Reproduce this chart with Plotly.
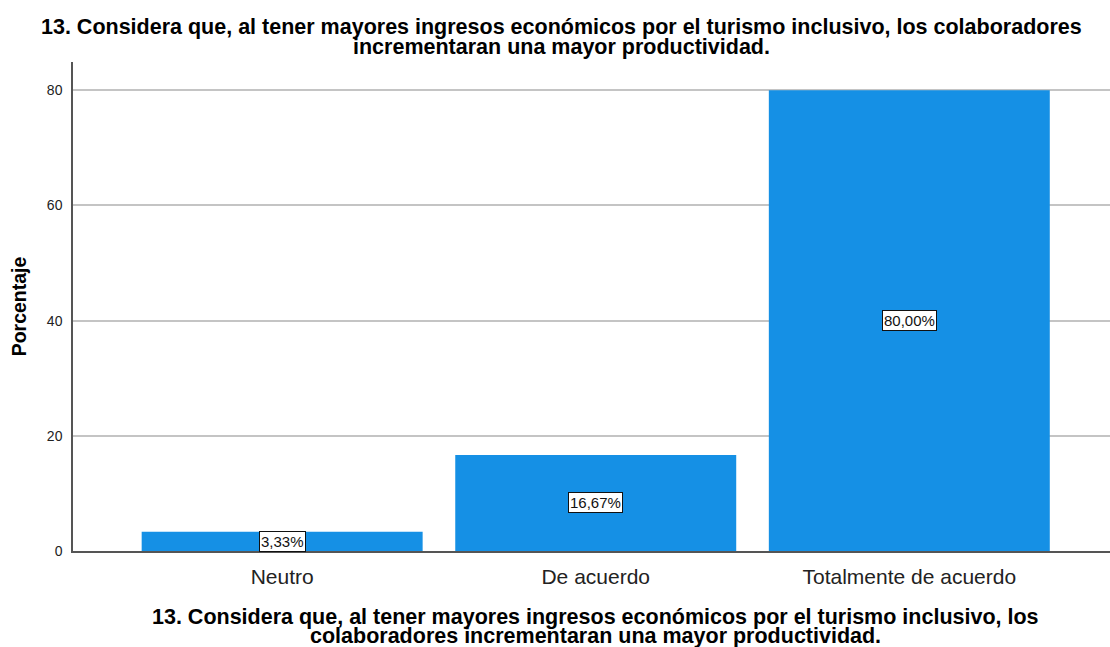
import plotly.graph_objects as go

categorias = ["Neutro", "De acuerdo", "Totalmente de acuerdo"]
porcentajes = [3.33, 16.67, 80.00]
etiquetas = ["3,33%", "16,67%", "80,00%"]

titulo = ["13. Considera que, al tener mayores ingresos económicos por el turismo inclusivo, los colaboradores",
          "incrementaran una mayor productividad."]
titulo_x = ["13. Considera que, al tener mayores ingresos económicos por el turismo inclusivo, los",
            "colaboradores incrementaran una mayor productividad."]

FONT = "Liberation Sans, Arial, sans-serif"
BAR = "#1590e5"

fig = go.Figure()
fig.add_trace(go.Bar(
    x=list(range(len(categorias))),
    y=porcentajes,
    width=0.896,
    marker=dict(color=BAR, line=dict(width=0)),
    hoverinfo="skip",
))

# value labels boxed at mid-height of each bar
for i, (v, t) in enumerate(zip(porcentajes, etiquetas)):
    fig.add_annotation(
        x=i, y=v / 2, text=t, showarrow=False,
        font=dict(family=FONT, size=15, color="#111"),
        bgcolor="white", bordercolor="#111", borderwidth=1, borderpad=1,
    )

# chart title, one annotation per line for tight line spacing
for k, linea in enumerate(titulo):
    fig.add_annotation(
        xref="paper", yref="paper", x=0.4715, y=1, yshift=62 - 27 - 20 * k,
        yanchor="middle", xanchor="center",
        text="<b>" + linea + "</b>", showarrow=False,
        font=dict(family=FONT, size=21.5, color="black"),
    )

# category axis title under the labels
for k, linea in enumerate(titulo_x):
    fig.add_annotation(
        xref="x", yref="paper", x=1, y=0, yshift=-(617 - 551) - 19 * k,
        yanchor="middle", xanchor="center",
        text="<b>" + linea + "</b>", showarrow=False,
        font=dict(family=FONT, size=21.5, color="black"),
    )

fig.update_layout(
    width=1110, height=647,
    margin=dict(l=73, r=0, t=62, b=96),
    paper_bgcolor="white", plot_bgcolor="white",
    showlegend=False,
    font=dict(family=FONT, color="#222"),
    xaxis=dict(
        range=[-0.667, 2.64],
        tickmode="array", tickvals=list(range(len(categorias))), ticktext=categorias,
        tickfont=dict(size=21, color="#222"),
        ticklabelstandoff=6,
        showline=True, linecolor="#555", linewidth=1.5,
        showgrid=False, ticks="", zeroline=False,
        fixedrange=True,
    ),
    yaxis=dict(
        range=[0, 84.9],
        tickvals=[0, 20, 40, 60, 80],
        tickfont=dict(size=14, color="#222"),
        ticklabelstandoff=6,
        showline=True, linecolor="#555", linewidth=1.5,
        showgrid=True, gridcolor="#c4c4c4", gridwidth=1.5,
        zeroline=False, ticks="",
        title=dict(text="<b>Porcentaje</b>", font=dict(size=19.5, color="black"), standoff=15),
        fixedrange=True,
    ),
)

fig.write_html("out.html")
